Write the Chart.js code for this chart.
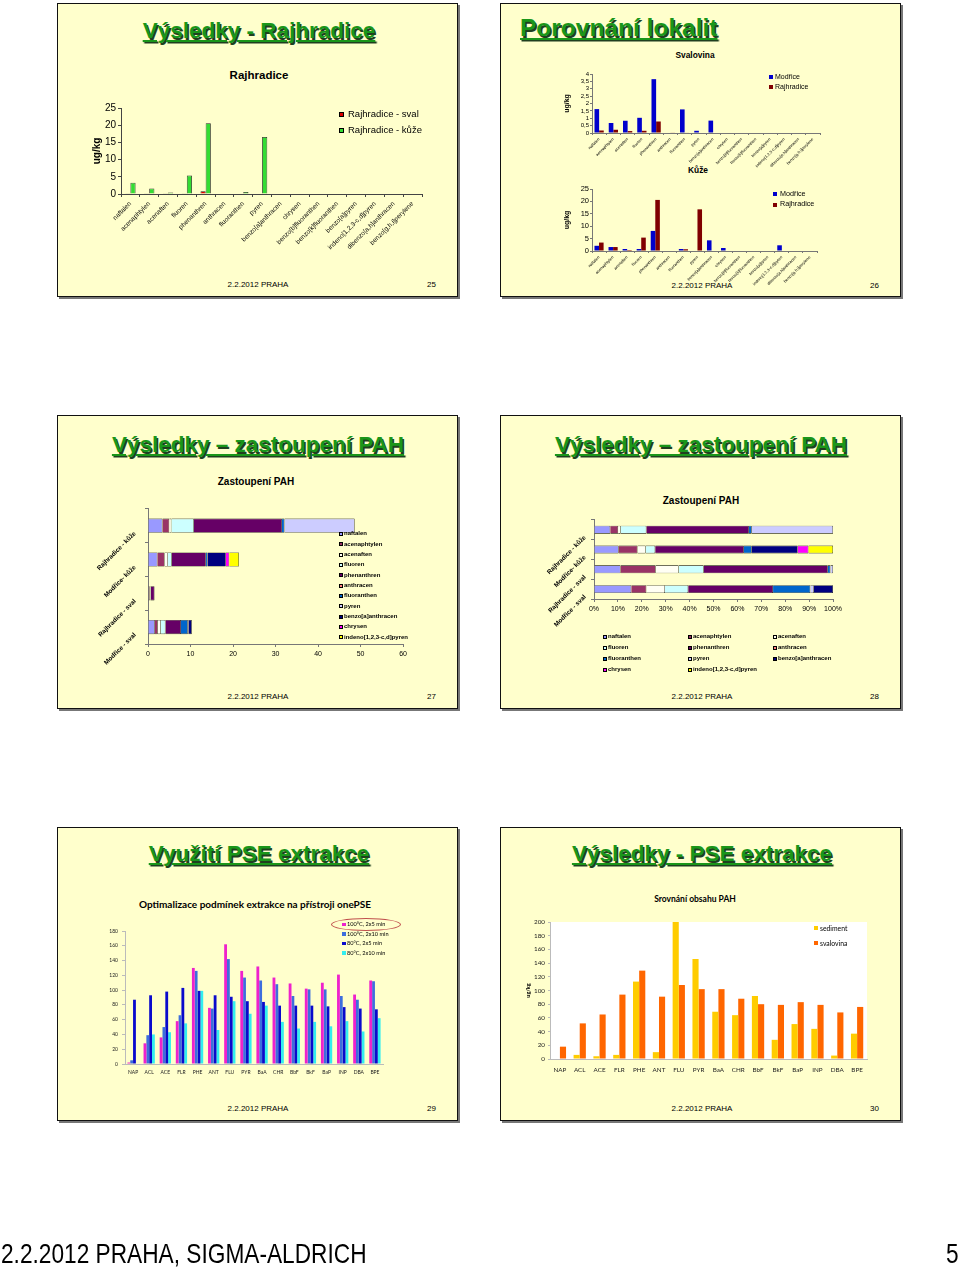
<!DOCTYPE html>
<html lang="cs">
<head>
<meta charset="UTF-8">
<title>PAH - Rajhradice, Modřice</title>
<script src="https://cdn.jsdelivr.net/npm/chart.js@4.4.0/dist/chart.umd.min.js"></script>
<style>
  body { margin: 0; background: #fff; font-family: "Liberation Sans", Arial, sans-serif; }
  #page { position: relative; width: 960px; height: 1268px; overflow: hidden; }
  .slide { position: absolute; width: 399px; height: 292px; background: #FFFFCC; border: 1.5px solid #111; box-shadow: 2px 2px 0 #777; }
  .title { position: absolute; width: 400px; text-align: center; font-weight: bold; font-size: 22.5px; line-height: 26px;
           color: #1a961a; text-decoration: underline; text-decoration-thickness: 2px; text-underline-offset: 2px;
           text-shadow: 1.5px 1.5px 0 #1f3f1f; white-space: nowrap; }
  .ctitle { position: absolute; width: 300px; text-align: center; font-weight: bold; white-space: nowrap; }
  .foot { position: absolute; font-size: 8px; line-height: 10px; white-space: nowrap; }
  .pagefoot { position: absolute; top: 1240px; font-size: 28px; line-height: 28px; white-space: nowrap;
              transform: scaleX(0.81); transform-origin: 0 0; }
  canvas { position: absolute; }
  .lg { position: absolute; white-space: nowrap; }
  .sq { position: absolute; box-sizing: border-box; border: 0.6px solid #000; }
</style>
</head>
<body>
<div id="page">
  <div class="slide" style="left:57px;top:3px"></div>
  <div class="slide" style="left:500px;top:3px"></div>
  <div class="slide" style="left:57px;top:415px"></div>
  <div class="slide" style="left:500px;top:415px"></div>
  <div class="slide" style="left:57px;top:827px"></div>
  <div class="slide" style="left:500px;top:827px"></div>

  <div class="title" style="left:59px;top:18px">Výsledky - Rajhradice</div>
  <div class="title" style="left:520px;top:14px;width:auto;font-size:24.5px;line-height:28px">Porovnání lokalit</div>
  <div class="title" style="left:58px;top:432px">Výsledky – zastoupení PAH</div>
  <div class="title" style="left:501px;top:432px">Výsledky – zastoupení PAH</div>
  <div class="title" style="left:59px;top:841px">Využití PSE extrakce</div>
  <div class="title" style="left:502px;top:841px">Výsledky - PSE extrakce</div>

  <div class="ctitle" style="left:109px;top:69px;font-size:11.5px">Rajhradice</div>
  <div class="ctitle" style="left:545px;top:50px;font-size:8.4px">Svalovina</div>
  <div class="ctitle" style="left:548px;top:165px;font-size:8.4px">Kůže</div>
  <div class="ctitle" style="left:106px;top:476px;font-size:10px">Zastoupení PAH</div>
  <div class="ctitle" style="left:551px;top:495px;font-size:10px">Zastoupení PAH</div>
  <div class="ctitle" style="left:105px;top:898px;font-size:10px;font-family:Lato,sans-serif">Optimalizace podmínek extrakce na přístroji onePSE</div>
  <div class="ctitle" style="left:545px;top:894px;font-size:8.5px;font-family:Lato,sans-serif">Srovnání obsahu PAH</div>

  <div class="foot" style="left:208px;top:280px;width:100px;text-align:center">2.2.2012 PRAHA</div>
  <div class="foot" style="left:427px;top:280px">25</div>
  <div class="foot" style="left:652px;top:281px;width:100px;text-align:center">2.2.2012 PRAHA</div>
  <div class="foot" style="left:870px;top:281px">26</div>
  <div class="foot" style="left:208px;top:692px;width:100px;text-align:center">2.2.2012 PRAHA</div>
  <div class="foot" style="left:427px;top:692px">27</div>
  <div class="foot" style="left:652px;top:692px;width:100px;text-align:center">2.2.2012 PRAHA</div>
  <div class="foot" style="left:870px;top:692px">28</div>
  <div class="foot" style="left:208px;top:1104px;width:100px;text-align:center">2.2.2012 PRAHA</div>
  <div class="foot" style="left:427px;top:1104px">29</div>
  <div class="foot" style="left:652px;top:1104px;width:100px;text-align:center">2.2.2012 PRAHA</div>
  <div class="foot" style="left:870px;top:1104px">30</div>

  <div class="pagefoot" style="left:1px">2.2.2012 PRAHA, SIGMA-ALDRICH</div>
  <div class="pagefoot" style="left:946px">5</div>

  <div style="position:absolute;left:331px;top:918px;width:68px;height:11px;border:1px solid #c0504d;border-radius:50%"></div>

  <canvas id="c1" width="350" height="175" style="left:80px;top:98px"></canvas>
  <canvas id="c2a" width="270" height="105" style="left:555px;top:66px"></canvas>
  <canvas id="c2b" width="270" height="108" style="left:555px;top:182px"></canvas>
  <canvas id="c3" width="315" height="185" style="left:95px;top:495px"></canvas>
  <canvas id="c4" width="305" height="150" style="left:540px;top:510px"></canvas>
  <canvas id="c5" width="290" height="160" style="left:100px;top:920px"></canvas>
  <canvas id="c6" width="360" height="165" style="left:515px;top:912px"></canvas>
</div>
<script>
// --- data ---
const pah16 = ['naftalen', 'acenaphtylen', 'acenaften', 'fluoren', 'phenanthren', 'anthracen', 'fluoranthen', 'pyren',
    'benzo[a]anthracen', 'chrysen', 'benzo[b]fluoranthen', 'benzo[k]fluoranthen', 'benzo[a]pyren',
    'indeno[1,2,3-c,d]pyren', 'dibenzo[a,h]anthracen', 'benzo[g,h,i]perylene'];

// slide 25
const rajSval25 = [0.2, 0.2, 0.2, 0.2, 0.8, 0, 0, 0, 0, 0, 0, 0, 0, 0, 0, 0];
const rajKuze25 = [3.3, 1.6, 0.4, 5.4, 20.6, 0, 0.6, 16.6, 0, 0, 0, 0, 0, 0, 0, 0];
const ticks25 = [0, 5, 10, 15, 20, 25];

// slide 26
const modSval26 = [1.62, 0.68, 0.83, 1.03, 3.65, 0, 1.6, 0.15, 0.84, 0, 0, 0, 0, 0, 0, 0];
const rajSval26 = [0.17, 0.22, 0.13, 0.15, 0.78, 0.04, 0.03, 0, 0, 0, 0, 0, 0, 0, 0, 0];
const modKuze26 = [2.1, 1.6, 0.8, 0.8, 8.1, 0, 0.8, 0, 4.3, 1.2, 0, 0, 0, 2.3, 0, 0];
const rajKuze26 = [3.4, 1.6, 0.4, 5.4, 20.6, 0, 0.7, 16.8, 0, 0, 0, 0, 0, 0, 0, 0];
const svalTicks = ['0', '0,5', '1', '1,5', '2', '2,5', '3', '3,5', '4'];

// slides 27, 28 (stacked)
const pah11 = pah16.slice(0, 10).concat(['indeno[1,2,3-c,d]pyren']);
const pahColors = ['#9999FF', '#993366', '#FFFFF4', '#CCFFFF', '#660066', '#FF8080', '#0066CC', '#CCCCFF', '#000080', '#FF00FF', '#FFFF00'];
const groups = ['Rajhradice - kůže', 'Modřice- kůže', 'Rajhradice - sval', 'Modřice - sval'];
// ug/kg per group, compound order as pah11
const rajKuze27 = [3.4, 1.6, 0.5, 5.3, 20.7, 0, 0.6, 16.5, 0, 0, 0];
const modKuze27 = [2.2, 1.7, 0.8, 0.9, 8.0, 0, 0.4, 0, 4.3, 0.8, 2.3];
const rajSval27 = [0.17, 0.22, 0.13, 0.15, 0.85, 0, 0.04, 0.03, 0, 0, 0];
const modSval27 = [1.6, 0.7, 0.7, 1.1, 3.65, 0, 1.6, 0.15, 0.8, 0, 0];
// percent per group
const rajKuze28 = [6.8, 3.3, 1.1, 10.7, 42.9, 0, 1.2, 34.0, 0, 0, 0];
const modKuze28 = [10.3, 7.9, 3.4, 4.0, 37.1, 0, 3.3, 0, 19.2, 4.5, 10.3];
const rajSval28 = [11.1, 14.7, 9.6, 10.5, 51.9, 0, 1.1, 1.1, 0, 0, 0];
const modSval28 = [15.6, 6.3, 7.8, 9.7, 35.5, 0, 15.6, 1.5, 8.0, 0, 0];
const pctTicks = ['0%', '10%', '20%', '30%', '40%', '50%', '60%', '70%', '80%', '90%', '100%'];

// slides 29, 30
const pse = ['NAP', 'ACL', 'ACE', 'FLR', 'PHE', 'ANT', 'FLU', 'PYR', 'BaA', 'CHR', 'BbF', 'BkF', 'BaP', 'INP', 'DBA', 'BPE'];
const c100x5 = [2, 28, 36, 58, 130, 76, 162, 126, 132, 117, 109, 102, 110, 121, 94, 113];
const c100x10 = [5, 39, 50, 66, 126, 75, 142, 117, 113, 108, 92, 101, 101, 92, 87, 112];
const c80x5 = [87, 93, 98, 103, 99, 93, 91, 85, 84, 79, 79, 79, 78, 77, 75, 74];
const c80x10 = [0, 40, 43, 55, 99, 46, 85, 68, 79, 57, 48, 57, 51, 58, 44, 62];
const sediment = [0, 6, 4, 6, 113, 10, 200, 146, 69, 64, 92, 28, 51, 44, 5, 37];
const svalovina = [18, 52, 65, 94, 129, 91, 108, 102, 102, 88, 80, 79, 83, 79, 68, 76];

Chart.defaults.font.family = '"Liberation Sans", Arial, sans-serif';
Chart.defaults.color = '#000';
Chart.defaults.animation = false;
Chart.defaults.responsive = false;
Chart.defaults.plugins.legend.display = false;
Chart.defaults.plugins.tooltip.enabled = false;
Chart.defaults.layout.autoPadding = false;

const CAL = 'Lato, "Open Sans", sans-serif';

// axis with tick marks only (no gridlines), fixed size so the plot area lands where it should
function axis(o) {
    const a = {
        grid: { drawOnChartArea: false, drawTicks: true, tickLength: o.tl ?? 3, color: o.c || '#444' },
        border: { color: o.c || '#444', width: 1 },
        ticks: { font: { size: o.fs, family: o.ff, weight: o.fw }, padding: o.pad ?? 2, autoSkip: false, color: o.tc || '#000' },
        afterFit: s => { if (o.w != null) s.width = o.w; if (o.h != null) s.height = o.h; }
    };
    if (o.rot != null) { a.ticks.minRotation = o.rot; a.ticks.maxRotation = o.rot; }
    if (o.lo != null) a.ticks.labelOffset = o.lo;
    return a;
}

const plotBg = {
    id: 'plotBg',
    beforeDraw(chart, args, opts) {
        if (!opts.color) return;
        const { ctx, chartArea: a } = chart;
        ctx.save();
        ctx.fillStyle = opts.color;
        ctx.fillRect(a.left, a.top, a.right - a.left, a.bottom - a.top);
        ctx.restore();
    }
};

function legend(items, c) {
    const page = document.getElementById('page');
    items.forEach((it, i) => {
        const col = c.cols ? i % c.cols : 0, row = c.cols ? Math.floor(i / c.cols) : i;
        const y = c.y + row * c.dy, dx = col * (c.colDx || 0);
        const sq = document.createElement('div');
        sq.className = 'sq';
        sq.style.cssText = `left:${c.x + dx}px;top:${y - c.s / 2}px;width:${c.s}px;height:${c.s}px;background:${it.color};` +
            (c.noBorder ? 'border:none;' : '');
        page.appendChild(sq);
        const t = document.createElement('div');
        t.className = 'lg';
        t.textContent = it.text;
        t.style.cssText = `left:${c.tx + dx}px;top:${y - c.fs * 0.6}px;font-size:${c.fs}px;line-height:${c.fs * 1.2}px;` +
            `font-weight:${c.bold ? 'bold' : 'normal'};font-family:${c.ff || 'inherit'}`;
        page.appendChild(t);
    });
}

// slide 25
new Chart(document.getElementById('c1'), {
    type: 'bar',
    data: {
        labels: pah16,
        datasets: [
            { label: 'Rajhradice - sval', data: rajSval25, backgroundColor: '#DD0000', borderColor: '#222', borderWidth: 0.8 },
            { label: 'Rajhradice - kůže', data: rajKuze25, backgroundColor: '#33DD33', borderColor: '#222', borderWidth: 0.8 }
        ]
    },
    options: {
        layout: { padding: { top: 10, right: 8, left: 0, bottom: 0 } },
        datasets: { bar: { categoryPercentage: 0.55, barPercentage: 1 } },
        scales: {
            x: axis({ fs: 6.5, rot: 45, h: 79, pad: 3 }),
            y: Object.assign(axis({ fs: 10, w: 41, pad: 2 }), {
                min: 0, max: 25, afterBuildTicks: s => { s.ticks = ticks25.map(v => ({ value: v })); },
                title: { display: true, text: 'ug/kg', font: { size: 10, weight: 'bold' }, padding: { top: 11, bottom: 0 } }
            })
        }
    }
});
legend([{ text: 'Rajhradice - sval', color: '#DD0000' }, { text: 'Rajhradice - kůže', color: '#33DD33' }],
    { x: 339, tx: 348, y: 114, dy: 16, s: 5, fs: 9.5 });

// slide 26
function compare(id, a, b, opt) {
    return new Chart(document.getElementById(id), {
        type: 'bar',
        data: {
            labels: pah16,
            datasets: [
                { label: 'Modřice', data: a, backgroundColor: '#0000CC' },
                { label: 'Rajhradice', data: b, backgroundColor: '#800000' }
            ]
        },
        options: {
            layout: { padding: { top: opt.top, right: opt.right, left: 0, bottom: 0 } },
            datasets: { bar: { categoryPercentage: 0.65, barPercentage: 1 } },
            scales: {
                x: axis({ fs: 4, rot: 45, h: opt.xh, pad: 2, tl: 2, c: '#777' }),
                y: Object.assign(axis({ fs: opt.yfs, w: 37, pad: 1, tl: 2, c: '#777' }), opt.y, {
                    title: { display: true, text: 'ug/kg', font: { size: 7, weight: 'bold' }, padding: { top: 7.8, bottom: 0 } }
                })
            }
        }
    });
}
compare('c2a', modSval26, rajSval26, {
    top: 8, right: 5, xh: 38, yfs: 6,
    y: { min: 0, max: 4, ticks: { stepSize: 0.5, font: { size: 6 }, padding: 1, autoSkip: false, callback: (v, i) => svalTicks[i] } }
});
compare('c2b', modKuze26, rajKuze26, {
    top: 7, right: 8, xh: 39, yfs: 7.5,
    y: { min: 0, max: 25, ticks: { stepSize: 5, font: { size: 7.5 }, padding: 1, autoSkip: false } }
});
legend([{ text: 'Modřice', color: '#0000CC' }, { text: 'Rajhradice', color: '#800000' }],
    { x: 769, tx: 775, y: 77, dy: 10, s: 4, fs: 7, noBorder: true });
legend([{ text: 'Modřice', color: '#0000CC' }, { text: 'Rajhradice', color: '#800000' }],
    { x: 773, tx: 780, y: 194, dy: 10.5, s: 4, fs: 7.2, noBorder: true });

// slides 27, 28
function stacked(id, rows, opt) {
    return new Chart(document.getElementById(id), {
        type: 'bar',
        data: {
            labels: groups,
            datasets: pah11.map((name, i) => ({
                label: name, data: rows.map(r => r[i]),
                backgroundColor: pahColors[i], borderColor: '#000', borderWidth: 0.6
            }))
        },
        options: {
            indexAxis: 'y',
            layout: { padding: { top: opt.top, right: opt.right, left: 0, bottom: 0 } },
            datasets: { bar: { categoryPercentage: 1, barPercentage: opt.bp } },
            scales: {
                x: Object.assign(axis({ fs: 7, h: opt.xh, pad: 3, c: '#777' }), { stacked: true, min: 0, max: opt.max }, opt.x),
                y: Object.assign(axis({ fs: 6.3, fw: 'bold', w: opt.yw, rot: 45, lo: 7, pad: opt.ypad, c: '#777' }), { stacked: true })
            }
        }
    });
}
stacked('c3', [rajKuze27, modKuze27, rajSval27, modSval27], {
    top: 7, right: 6, xh: 36, yw: 53, ypad: 10, bp: 0.42, max: 60,
    x: { ticks: { stepSize: 10, font: { size: 7 }, padding: 3 } }
});
stacked('c4', [rajKuze28, modKuze28, rajSval28, modSval28], {
    top: 9, right: 7, xh: 61, yw: 54, ypad: 6, bp: 0.4, max: 100,
    x: { ticks: { stepSize: 10, font: { size: 7 }, padding: 3, callback: (v, i) => pctTicks[i] } }
});
const pahItems = pah11.map((t, i) => ({ text: t, color: pahColors[i] }));
legend(pahItems, { x: 339, tx: 344, y: 534, dy: 10.33, s: 4, fs: 6, bold: true });
legend(pahItems, { x: 603, tx: 608, y: 637, dy: 11, s: 4, fs: 6, bold: true, cols: 3, colDx: 85 });

// slide 29
new Chart(document.getElementById('c5'), {
    type: 'bar',
    data: {
        labels: pse,
        datasets: [
            { label: '100°C, 2x5 min', data: c100x5, backgroundColor: '#EE22CC' },
            { label: '100°C, 2x10 min', data: c100x10, backgroundColor: '#3D6EDD' },
            { label: '80°C, 2x5 min', data: c80x5, backgroundColor: '#0A0ACC' },
            { label: '80°C, 2x10 min', data: c80x10, backgroundColor: '#33EEEE' }
        ]
    },
    options: {
        layout: { padding: { top: 11, right: 7, left: 0, bottom: 0 } },
        datasets: { bar: { categoryPercentage: 0.7, barPercentage: 1 } },
        scales: {
            x: axis({ fs: 5, ff: CAL, h: 16, pad: 5, tl: 0, rot: 0, c: '#bbb', tc: '#222' }),
            y: Object.assign(axis({ fs: 5, ff: CAL, w: 25, pad: 4, tl: 3, c: '#bbb', tc: '#222' }),
                { min: 0, max: 180, ticks: { stepSize: 20, font: { size: 5, family: CAL }, padding: 4, color: '#222' } })
        }
    }
});
legend([{ text: '100°C, 2x5 min', color: '#EE22CC' }, { text: '100°C, 2x10 min', color: '#3D6EDD' },
        { text: '80°C, 2x5 min', color: '#0A0ACC' }, { text: '80°C, 2x10 min', color: '#33EEEE' }],
    { x: 342, tx: 347, y: 924.3, dy: 9.6, s: 3.5, fs: 5.6, ff: CAL, noBorder: true });

// slide 30
new Chart(document.getElementById('c6'), {
    type: 'bar',
    data: {
        labels: pse,
        datasets: [
            { label: 'sediment', data: sediment, backgroundColor: '#FFCC00' },
            { label: 'svalovina', data: svalovina, backgroundColor: '#FF6600' }
        ]
    },
    plugins: [plotBg],
    options: {
        layout: { padding: { top: 10, right: 8, left: 0, bottom: 0 } },
        datasets: { bar: { categoryPercentage: 0.62, barPercentage: 1 } },
        plugins: { plotBg: { color: '#FFFFFF' } },
        scales: {
            x: axis({ fs: 6.3, ff: CAL, h: 18, pad: 7, tl: 0, rot: 0, c: '#bbb', tc: '#222' }),
            y: Object.assign(axis({ fs: 6.3, ff: CAL, w: 35, pad: 3, tl: 2, c: '#bbb', tc: '#222' }), {
                min: 0, max: 200, ticks: { stepSize: 20, font: { size: 6.3, family: CAL }, padding: 3, color: '#222' },
                title: { display: true, text: 'ug/kg', font: { size: 5.5, weight: 'bold', family: CAL }, padding: { top: 9.7, bottom: 0 } }
            })
        }
    }
});
legend([{ text: 'sediment', color: '#FFCC00' }, { text: 'svalovina', color: '#FF6600' }],
    { x: 814, tx: 820, y: 928, dy: 15, s: 4, fs: 6.8, ff: CAL, noBorder: true });
</script>
</body>
</html>
